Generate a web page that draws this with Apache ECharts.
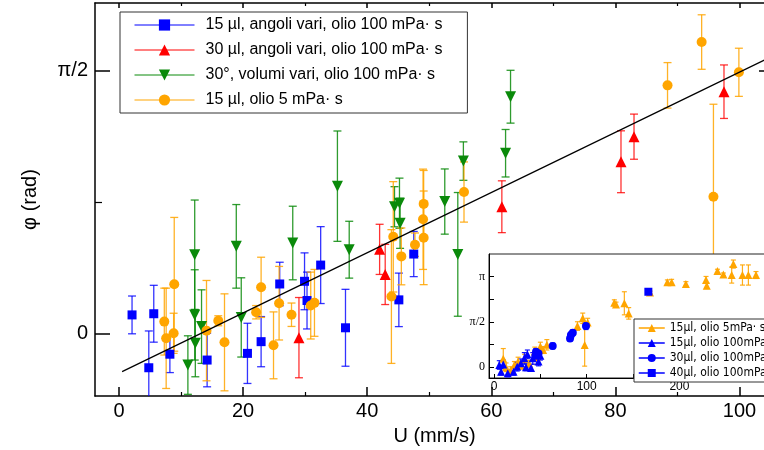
<!DOCTYPE html>
<html><head><meta charset="utf-8">
<script src="https://cdn.jsdelivr.net/npm/echarts@6/dist/echarts.min.js"></script>
<style>html,body{margin:0;padding:0;background:#fff}#c{width:764px;height:450px}</style>
</head><body><div id="c"></div>
<script>
// ---------- main plot data (U in mm/s, phi in rad, err in rad) ----------
const blueName = '15 µl, angoli vari, olio 100 mPa· s';
const blueU   = [2.1, 5.6, 4.8, 8.2, 14.2, 20.7, 22.9, 25.9, 29.9, 30.3, 32.5, 36.5, 45.1, 47.5];
const bluePhi = [0.11, 0.117, -0.206, -0.125, -0.16, -0.12, -0.05, 0.295, 0.311, 0.196, 0.408, 0.033, 0.2, 0.474];
const blueErr = [0.113, 0.17, 0.22, 0.11, 0.16, 0.18, 0.15, 0.13, 0.17, 0.17, 0.23, 0.23, 0.16, 0.135];

const redName = '30 µl, angoli vari, olio 100 mPa· s';
const redU   = [29.0, 42.0, 42.9, 61.7, 80.9, 83.0, 97.5];
const redPhi = [-0.026, 0.502, 0.352, 0.757, 1.026, 1.176, 1.445];
const redErr = [0.24, 0.15, 0.18, 0.155, 0.185, 0.135, 0.16];

const greenName = '30°, volumi vari, olio 100 mPa· s';
const greenU   = [11.1, 12.2, 12.2, 12.3, 13.3, 18.9, 19.7, 28.0, 35.2, 37.1, 44.4, 45.2, 45.3, 52.5, 54.6, 55.5, 62.3, 63.1];
const greenPhi = [-0.19, 0.47, 0.11, -0.06, 0.04, 0.52, 0.095, 0.54, 0.88, 0.5, 0.757, 0.778, 0.658, 0.788, 0.472, 1.03, 1.077, 1.415];
const greenErr = [0.175, 0.327, 0.27, 0.2, 0.22, 0.25, 0.237, 0.22, 0.33, 0.17, 0.12, 0.15, 0.15, 0.195, 0.37, 0.115, 0.142, 0.158];

const orName = '15 µl, olio 5 mPa· s';
const orU   = [7.3, 7.6, 8.9, 8.8, 14.1, 16.0, 17.0, 22.1, 22.9, 24.9, 25.8, 27.8, 30.9, 31.5, 43.9, 44.2, 45.5, 47.7, 49.1, 49.0, 49.1, 55.6, 88.4, 93.9, 95.8, 99.9];
const orPhi = [0.07, -0.03, 0.293, 0.0, 0.016, 0.075, -0.054, 0.126, 0.275, -0.072, 0.18, 0.111, 0.166, 0.182, 0.22, 0.577, 0.46, 0.53, 0.774, 0.682, 0.571, 0.845, 1.483, 1.742, 0.817, 1.561];
const orErr = [0.2, 0.3, 0.4, 0.12, 0.3, 0.03, 0.29, 0.04, 0.18, 0.2, 0.22, 0.07, 0.2, 0.2, 0.4, 0.33, 0.17, 0.07, 0.2, 0.3, 0.28, 0.18, 0.136, 0.163, 0.553, 0.144];

// linear fit
const fitIntercept = -0.238;
const fitSlope = 0.018;
const fitRange = [0.5, 106];

// main axis ticks
const xMajor = [0, 20, 40, 60, 80, 100];
const xMinor = [10, 30, 50, 70, 90];
const yMajor = [0, Math.PI / 2];
const yMinor = [Math.PI / 4];

// ---------- inset data ----------
const iOrName = '15µl, olio 5mPa· s';
const iOrU   = [10, 13, 18, 22, 26, 29, 33, 38, 44, 46, 50, 53, 57, 90, 95.7, 97.8, 101, 129.8, 131.6, 140.6, 145.3, 168.3, 187, 191.6, 207, 228.7, 229.5, 241, 247.4, 256.4, 258.2, 268, 274.4, 282.6];
const iOrPhi = [0.3, 0.0, -0.1, 0.08, 0.2, 0.05, 0.3, 0.12, 0.55, 0.35, 0.72, 0.6, 0.78, 1.43, 1.7, 0.77, 1.55, 2.24, 2.18, 2.22, 1.87, 2.59, 2.95, 2.95, 2.89, 3.03, 2.83, 3.34, 3.22, 3.2, 3.58, 3.2, 3.2, 3.2];
const iOrErr = [0.35, 0.15, 0.12, 0.12, 0.15, 0.1, 0.15, 0.12, 0.15, 0.25, 0.15, 0.12, 0.18, 0.15, 0.18, 0.73, 0.15, 0.1, 0.08, 0.4, 0.2, 0.05, 0.08, 0.1, 0.08, 0.12, 0.1, 0.06, 0.05, 0.28, 0.14, 0.35, 0.35, 0.12];

const iBtName = '15µl, olio 100mPa· s';
const iBtU   = [5.7, 7.6, 10, 14.8, 21, 25, 29, 32.7, 34.5, 36, 40, 41.8, 45.3, 48, 50];
const iBtPhi = [0.08, -0.15, 0.1, -0.21, -0.15, 0.02, 0.14, 0.31, 0.0, 0.45, -0.02, 0.31, 0.49, 0.2, 0.4];
const iBtErr = [0.15, 0.12, 0.15, 0.12, 0.12, 0.15, 0.15, 0.2, 0.12, 0.15, 0.12, 0.2, 0.15, 0.15, 0.15];

const iBcName = '30µl, olio 100mPa· s';
const iBcU   = [44.6, 45.3, 48, 63.3, 82, 83, 85, 99.2];
const iBcPhi = [0.4, 0.54, 0.48, 0.74, 1.0, 1.12, 1.2, 1.43];
const iBcErr = [0.1, 0.1, 0.1, 0.1, 0.1, 0.1, 0.1, 0.12];

const iBsName = '40µl, olio 100mPa· s';
const iBsU   = [166.5];
const iBsPhi = [2.62];

const ixMajor = [0, 100, 200];
const ixTicks = [0, 50, 100, 150, 200, 250, 300];
const iyMajor = [0, Math.PI / 2, Math.PI];
const iyTicks = [0, Math.PI / 4, Math.PI / 2, 3 * Math.PI / 4, Math.PI];

// ---------- build ----------
const FONT = 'Liberation Sans';
const NARROW = "'Liberation Sans Narrow', 'DejaVu Sans Condensed', 'Liberation Sans'";
const BLUE = '#0000ff', RED = '#ff0000', GREEN = '#0a8a0a', ORANGE = '#ffa500';

function pts(U, P) { return U.map((u, i) => [u, P[i]]); }
function epts(U, P, E) { return U.map((u, i) => [u, P[i], E[i]]); }

function errSeries(data, color, capW, lw, xi, yi, z, opacity) {
  return {
    type: 'custom', xAxisIndex: xi, yAxisIndex: yi, z: z, clip: true, silent: true,
    data: data, encode: { x: 0, y: 1 },
    renderItem: function (params, api) {
      const x = api.value(0), y = api.value(1), e = api.value(2);
      const a = api.coord([x, y + e]), b = api.coord([x, y - e]);
      const st = { stroke: color, lineWidth: lw, opacity: opacity };
      return {
        type: 'group', children: [
          { type: 'line', shape: { x1: a[0], y1: a[1], x2: b[0], y2: b[1] }, style: st },
          { type: 'line', shape: { x1: a[0] - capW / 2, y1: a[1], x2: a[0] + capW / 2, y2: a[1] }, style: st },
          { type: 'line', shape: { x1: b[0] - capW / 2, y1: b[1], x2: b[0] + capW / 2, y2: b[1] }, style: st }
        ]
      };
    }
  };
}

function markSeries(name, data, color, symbol, size, rot, xi, yi, z) {
  return {
    type: 'line', name: name, xAxisIndex: xi, yAxisIndex: yi, z: z, silent: true,
    data: data, symbol: symbol, symbolSize: size, symbolRotate: rot, showSymbol: true,
    itemStyle: { color: color, opacity: 1 }, lineStyle: { color: color, opacity: 0, width: 1 }
  };
}

const hid = { show: false };
function tickAxis(base, ticks, len, w) {
  return Object.assign({
    type: 'value', axisLine: { show: false, onZero: false }, splitLine: hid, axisLabel: hid,
    axisTick: { show: true, inside: true, length: len, customValues: ticks, lineStyle: { color: '#000', width: w } }
  }, base);
}

const X0 = -3.87, X1 = 105.56, Y0 = -0.375, Y1 = 1.9755;
const IX0 = -5.4, IX1 = 308.5, IY0 = -0.371, IY1 = 3.929;

const yFmt = v => Math.abs(v) < 1e-9 ? '0' : (Math.abs(v - Math.PI / 2) < 1e-6 ? 'π/2' : 'π');

const option = {
  animation: false,
  backgroundColor: '#fff',
  grid: [
    { left: 95, top: 3, width: 679, height: 393, show: false, z: 0, outerBoundsMode: 'none', containLabel: false },
    { left: 489, top: 254, width: 291, height: 124, show: true, backgroundColor: '#fff', borderColor: '#222', borderWidth: 1, z: 10, outerBoundsMode: 'none', containLabel: false }
  ],
  xAxis: [
    { type: 'value', gridIndex: 0, min: X0, max: X1, position: 'bottom',
      axisLine: { show: true, onZero: false, lineStyle: { color: '#000', width: 1.5 } },
      axisTick: { show: true, inside: true, length: 9, customValues: xMajor, lineStyle: { color: '#000', width: 1.5 } },
      axisLabel: { show: true, customValues: xMajor, fontSize: 20, fontFamily: FONT, color: '#000', margin: 5 },
      splitLine: hid,
      name: 'U (mm/s)', nameLocation: 'middle', nameGap: 30,
      nameTextStyle: { fontSize: 20, fontFamily: FONT, color: '#000' } },
    tickAxis({ gridIndex: 0, min: X0, max: X1, position: 'bottom' }, xMinor, 4, 1.2),
    { type: 'value', gridIndex: 0, min: X0, max: X1, position: 'top',
      axisLine: { show: true, onZero: false, lineStyle: { color: '#000', width: 1.5 } },
      axisTick: { show: true, inside: true, length: 5, customValues: xMajor, lineStyle: { color: '#000', width: 1.5 } },
      axisLabel: hid, splitLine: hid },
    tickAxis({ gridIndex: 0, min: X0, max: X1, position: 'top' }, xMinor, 3, 1.2),
    { type: 'value', gridIndex: 1, min: IX0, max: IX1, position: 'bottom', z: 11,
      axisLine: { show: true, onZero: false, lineStyle: { color: '#000', width: 1 } },
      axisTick: { show: true, inside: true, length: 4, customValues: ixTicks, lineStyle: { color: '#000', width: 1 } },
      axisLabel: { show: true, customValues: ixMajor, fontSize: 12, fontFamily: FONT, color: '#000', margin: 3 },
      splitLine: hid }
  ],
  yAxis: [
    { type: 'value', gridIndex: 0, min: Y0, max: Y1, position: 'left',
      axisLine: { show: true, onZero: false, lineStyle: { color: '#000', width: 1.5 } },
      axisTick: { show: true, inside: true, length: 15, customValues: yMajor, lineStyle: { color: '#000', width: 1.5 } },
      axisLabel: { show: true, customValues: yMajor, formatter: yFmt, fontSize: 20, fontFamily: FONT, color: '#000', margin: 7 },
      splitLine: hid,
      name: 'φ (rad)', nameLocation: 'middle', nameGap: 55, nameRotate: 90,
      nameTextStyle: { fontSize: 20, fontFamily: FONT, color: '#000' } },
    tickAxis({ gridIndex: 0, min: Y0, max: Y1, position: 'left' }, yMinor, 7, 1.2),
    { type: 'value', gridIndex: 0, min: Y0, max: Y1, position: 'right',
      axisLine: { show: true, onZero: false, lineStyle: { color: '#000', width: 1.5 } },
      axisTick: { show: true, inside: true, length: 15, customValues: yMajor, lineStyle: { color: '#000', width: 1.5 } },
      axisLabel: hid, splitLine: hid },
    tickAxis({ gridIndex: 0, min: Y0, max: Y1, position: 'right' }, yMinor, 7, 1.2),
    { type: 'value', gridIndex: 1, min: IY0, max: IY1, position: 'left', z: 11,
      axisLine: { show: true, onZero: false, lineStyle: { color: '#000', width: 1 } },
      axisTick: { show: true, inside: true, length: 5, customValues: iyTicks, lineStyle: { color: '#000', width: 1 } },
      axisLabel: { show: true, customValues: iyMajor, formatter: yFmt, fontSize: 12, fontFamily: 'Liberation Serif', color: '#000', margin: 4 },
      splitLine: hid }
  ],
  legend: [
    { data: [blueName, redName, greenName, orName], orient: 'vertical', left: 120, top: 12,
      itemWidth: 60, itemHeight: 14, itemGap: 9, padding: [5, 25, 5, 14], selectedMode: false,
      backgroundColor: '#fff', borderColor: '#333', borderWidth: 1, z: 9,
      lineStyle: { opacity: 1, width: 1 },
      textStyle: { fontSize: 16, fontFamily: FONT, color: '#000', padding: [0, 0, 0, 6] } },
    { data: [iOrName, iBtName, iBcName, iBsName], orient: 'vertical', left: 634, top: 319,
      itemWidth: 26, itemHeight: 10, itemGap: 3, padding: [3, 10, 3, 4], selectedMode: false,
      backgroundColor: '#fff', borderColor: '#333', borderWidth: 1, z: 20,
      lineStyle: { opacity: 1, width: 1.5 },
      textStyle: { fontSize: 12, fontFamily: NARROW, color: '#000', padding: [1, 0, 0, 0] } }
  ],
  series: [
    errSeries(epts(blueU, bluePhi, blueErr), BLUE, 8, 1.3, 0, 0, 1, 0.8),
    errSeries(epts(redU, redPhi, redErr), RED, 8, 1.3, 0, 0, 1, 0.8),
    errSeries(epts(greenU, greenPhi, greenErr), GREEN, 8, 1.3, 0, 0, 1, 0.85),
    errSeries(epts(orU, orPhi, orErr), ORANGE, 8, 1.3, 0, 0, 1, 0.85),
    markSeries(blueName, pts(blueU, bluePhi), BLUE, 'rect', 9, 0, 0, 0, 3),
    markSeries(redName, pts(redU, redPhi), RED, 'triangle', 11, 0, 0, 0, 3),
    markSeries(greenName, pts(greenU, greenPhi), GREEN, 'triangle', 11, 180, 0, 0, 3),
    markSeries(orName, pts(orU, orPhi), ORANGE, 'circle', 10, 0, 0, 0, 3),
    { type: 'line', xAxisIndex: 0, yAxisIndex: 0, z: 4, silent: true, symbol: 'none',
      data: fitRange.map(u => [u, fitIntercept + fitSlope * u]),
      lineStyle: { color: '#000', width: 1.2 } },
    // inset
    errSeries(epts(iOrU, iOrPhi, iOrErr), ORANGE, 5, 1.2, 4, 4, 12, 0.9),
    errSeries(epts(iBtU, iBtPhi, iBtErr), BLUE, 5, 1.2, 4, 4, 12, 0.9),
    errSeries(epts(iBcU, iBcPhi, iBcErr), BLUE, 5, 1.2, 4, 4, 12, 0.9),
    markSeries(iOrName, pts(iOrU, iOrPhi), ORANGE, 'triangle', 8, 0, 4, 4, 13),
    markSeries(iBtName, pts(iBtU, iBtPhi), BLUE, 'triangle', 8, 0, 4, 4, 13),
    markSeries(iBcName, pts(iBcU, iBcPhi), BLUE, 'circle', 8, 0, 4, 4, 13),
    markSeries(iBsName, pts(iBsU, iBsPhi), BLUE, 'rect', 8, 0, 4, 4, 14)
  ]
};

const chart = echarts.init(document.getElementById('c'), null, { renderer: 'canvas' });
chart.setOption(option);
</script></body></html>
